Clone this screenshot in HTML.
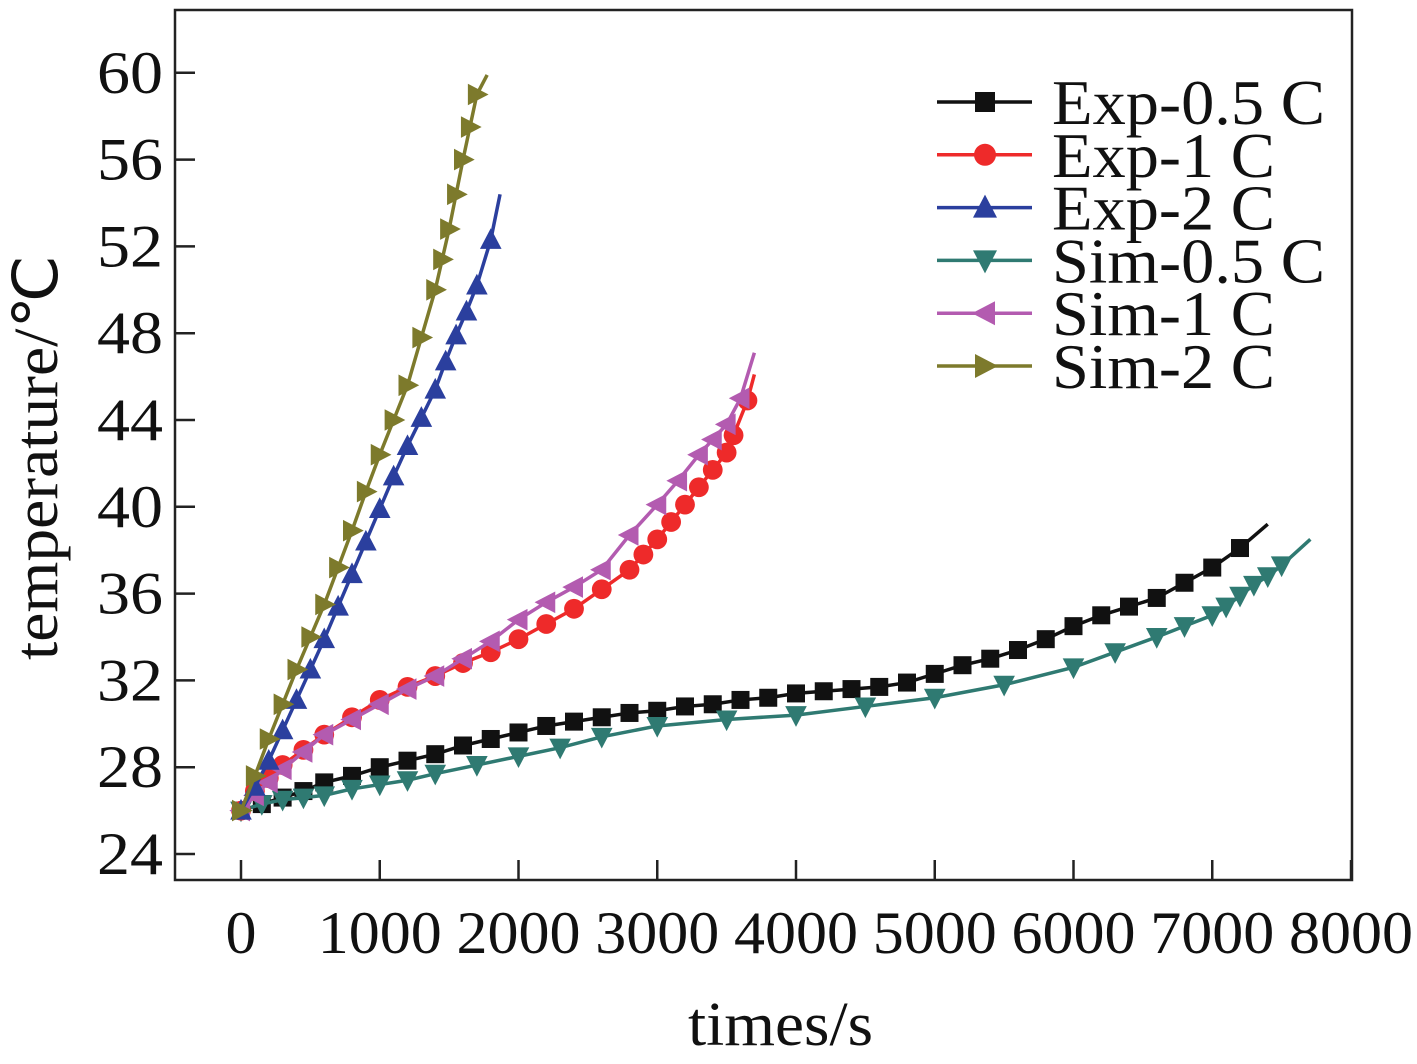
<!DOCTYPE html>
<html><head><meta charset="utf-8"><style>
body{margin:0;background:#fff}
svg text{font-family:"Liberation Serif",serif;fill:#111}
</style></head><body>
<svg id="c" width="1417" height="1059" xmlns="http://www.w3.org/2000/svg"></svg>
<script>
const xTicks=[0,1000,2000,3000,4000,5000,6000,7000,8000];
const yTicks=[24,28,32,36,40,44,48,52,56,60];
const names=["Exp-0.5 C","Exp-1 C","Exp-2 C","Sim-0.5 C","Sim-1 C","Sim-2 C"];
const colors=["#111111","#ee2a2a","#2b3f9e","#2f7a72","#b35bb0","#7d7a2c"];
const markers=["square","circle","up","down","left","right"];
const tExp05=[0,150,300,450,600,800,1000,1200,1400,1600,1800,2000,2200,2400,2600,2800,3000,3200,3400,3600,3800,4000,4200,4400,4600,4800,5000,5200,5400,5600,5800,6000,6200,6400,6600,6800,7000,7200,7400];
const vExp05=[26,26.3,26.6,26.9,27.3,27.6,28.0,28.3,28.6,29.0,29.3,29.6,29.9,30.1,30.3,30.5,30.6,30.8,30.9,31.1,31.2,31.4,31.5,31.6,31.7,31.9,32.3,32.7,33.0,33.4,33.9,34.5,35.0,35.4,35.8,36.5,37.2,38.1,39.2];
const tExp1=[0,100,200,300,450,600,800,1000,1200,1400,1600,1800,2000,2200,2400,2600,2800,2900,3000,3100,3200,3300,3400,3500,3550,3650,3700];
const vExp1=[26,26.9,27.5,28.1,28.8,29.5,30.3,31.1,31.7,32.2,32.8,33.3,33.9,34.6,35.3,36.2,37.1,37.8,38.5,39.3,40.1,40.9,41.7,42.5,43.3,44.9,46.1];
const tExp2=[0,100,200,300,400,500,600,700,800,900,1000,1100,1200,1300,1400,1475,1550,1625,1700,1800,1867];
const vExp2=[26,27.1,28.3,29.7,31.1,32.5,33.9,35.4,36.9,38.4,39.9,41.4,42.8,44.1,45.4,46.7,47.9,49.0,50.2,52.3,54.4];
const tSim05=[0,150,300,450,600,800,1000,1200,1400,1700,2000,2300,2600,3000,3500,4000,4500,5000,5500,6000,6300,6600,6800,7000,7100,7200,7300,7400,7500,7707];
const vSim05=[26,26.3,26.5,26.6,26.7,27.0,27.2,27.4,27.7,28.1,28.5,28.9,29.4,29.9,30.2,30.4,30.8,31.2,31.8,32.6,33.3,34.0,34.5,35.0,35.4,35.9,36.4,36.8,37.3,38.5];
const tSim1=[0,100,200,300,450,600,800,1000,1200,1400,1600,1800,2000,2200,2400,2600,2800,3000,3150,3300,3400,3500,3600,3700];
const vSim1=[26,26.7,27.3,27.9,28.7,29.5,30.2,30.9,31.6,32.2,33.0,33.8,34.8,35.6,36.3,37.1,38.7,40.1,41.2,42.4,43.1,43.8,45.0,47.1];
const tSim2=[0,100,200,300,400,500,600,700,800,900,1000,1100,1200,1300,1400,1450,1500,1550,1600,1650,1700,1774];
const vSim2=[26,27.6,29.3,30.9,32.5,34.0,35.5,37.2,38.9,40.7,42.4,44.0,45.6,47.8,50.0,51.4,52.8,54.4,56.0,57.5,59.0,59.9];
const seriesT=[tExp05,tExp1,tExp2,tSim05,tSim1,tSim2];
const seriesV=[vExp05,vExp1,vExp2,vSim05,vSim1,vSim2];

const svg=document.getElementById('c');const NS="http://www.w3.org/2000/svg";
function X(t){return 241+t*0.13875;}
function Y(v){return 854-(v-24)*21.7;}
function mk(tag,attrs,parent){const e=document.createElementNS(NS,tag);for(const k in attrs)e.setAttribute(k,attrs[k]);(parent||svg).appendChild(e);return e;}
const frame=mk('rect',{x:175,y:10,width:1177,height:870,fill:'none',stroke:'#222','stroke-width':2.5});


xTicks.forEach(t=>{const l=mk('line',{x1:X(t),x2:X(t),y1:880,y2:860,stroke:'#222','stroke-width':2.5});


const s=String(t);
const tx=mk('text',{x:X(t),y:953,'text-anchor':'middle','font-size':60,textLength:s.length*31,lengthAdjust:'spacingAndGlyphs'});tx.textContent=s;

});
yTicks.forEach(v=>{const l=mk('line',{x1:175,x2:195,y1:Y(v),y2:Y(v),stroke:'#222','stroke-width':2.5});


const tx=mk('text',{x:97,y:Y(v)+20,'font-size':60,textLength:66,lengthAdjust:'spacingAndGlyphs'});tx.textContent=v;

});
const xl=mk('text',{x:688,y:1045,'font-size':62,textLength:185,lengthAdjust:'spacingAndGlyphs'});xl.textContent='times/s';


const yl=mk('text',{x:0,y:0,'font-size':62,textLength:405,lengthAdjust:'spacingAndGlyphs',transform:'translate(57,660) rotate(-90)'});yl.textContent='temperature/℃';


function marker(g,type,x,y,c,s){
 if(type==='square')return mk('rect',{x:x-s,y:y-s,width:2*s,height:2*s,fill:c},g);
 if(type==='circle')return mk('circle',{cx:x,cy:y,r:s*1.1,fill:c},g);
 let p;
 if(type==='up')p=[[x,y-s*1.3],[x-s*1.2,y+s],[x+s*1.2,y+s]];
 if(type==='down')p=[[x,y+s*1.3],[x-s*1.2,y-s],[x+s*1.2,y-s]];
 if(type==='left')p=[[x-s*1.3,y],[x+s,y-s*1.2],[x+s,y+s*1.2]];
 if(type==='right')p=[[x+s*1.3,y],[x-s,y-s*1.2],[x-s,y+s*1.2]];
 return mk('polygon',{points:p.map(q=>q.join(',')).join(' '),fill:c},g);
}
const order=[0,3,1,4,2,5];
order.forEach(i=>{const g=mk('g',{});


const pts=seriesT[i].map((t,j)=>X(t)+','+Y(seriesV[i][j])).join(' ');
mk('polyline',{points:pts,fill:'none',stroke:colors[i],'stroke-width':3.5},g);
seriesT[i].forEach((t,j)=>{if(j===seriesT[i].length-1)return;const m=marker(g,markers[i],X(t),Y(seriesV[i][j]),colors[i],9);

});});
const legW=[273,223,223,273,223,223];
names.forEach((n,i)=>{const y=102+i*52.8;const g=mk('g',{});


mk('line',{x1:937,x2:1032,y1:y,y2:y,stroke:colors[i],'stroke-width':3.5},g);
marker(g,markers[i],985,y,colors[i],10);
const tx=mk('text',{x:1052,y:y+22,'font-size':64,textLength:legW[i],lengthAdjust:'spacingAndGlyphs'},g);tx.textContent=n;});
</script>
</body></html>
